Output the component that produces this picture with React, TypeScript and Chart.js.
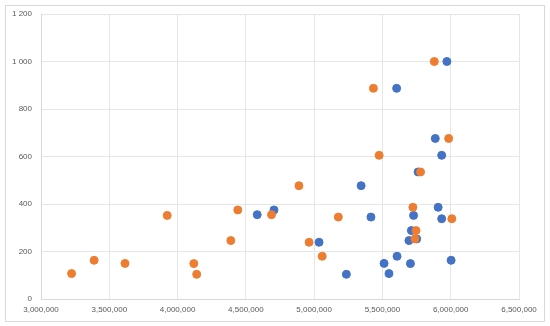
import React, { useEffect, useRef } from "react";
import { Chart, registerables } from "chart.js";

Chart.register(...registerables);

const xBlue = [4583000, 4706000, 5036000, 5236000, 5344000, 5416000, 5512000, 5548000, 5604000, 5607000, 5694000, 5705000, 5712000, 5728000, 5751000, 5761000, 5887000, 5908000, 5934000, 5934000, 5972000, 6003000];
const yBlue = [355, 375, 239, 104, 477, 345, 150, 107, 887, 180, 246, 149, 288, 352, 253, 535, 676, 386, 605, 338, 1000, 163];

const xOrange = [3224000, 3389000, 3615000, 3924000, 4119000, 4140000, 4390000, 4441000, 4688000, 4889000, 4963000, 5059000, 5177000, 5434000, 5476000, 5723000, 5746000, 5738000, 5779000, 5880000, 5985000, 6008000];
const yOrange = [107, 163, 150, 352, 149, 104, 246, 375, 355, 477, 239, 180, 345, 887, 605, 386, 288, 253, 535, 1000, 676, 338];

const xMin = 3000000;
const xMax = 6500000;
const xStep = 500000;
const yMin = 0;
const yMax = 1200;
const yStep = 200;

const borderPlugin = {
  id: "outerBorder",
  afterDraw(chart: any) {
    const ctx = chart.ctx;
    ctx.save();
    ctx.strokeStyle = "#d9d9d9";
    ctx.lineWidth = 1;
    ctx.strokeRect(5.5, 5.5, 539, 316);
    ctx.restore();
  },
};

export default function App() {
  const ref = useRef<HTMLCanvasElement>(null);
  useEffect(() => {
    document.body.style.margin = "0";
    const canvas = ref.current!;
    const chart = new Chart(canvas, {
      type: "scatter",
      data: {
        datasets: [
          {
            label: "Series1",
            data: xBlue.map((x, i) => ({ x, y: yBlue[i] })),
            backgroundColor: "#4472C4",
            borderColor: "#4472C4",
            pointRadius: 4,
            order: 1,
          },
          {
            label: "Series2",
            data: xOrange.map((x, i) => ({ x, y: yOrange[i] })),
            backgroundColor: "#ED7D31",
            borderColor: "#ED7D31",
            pointRadius: 4,
            order: 0,
          },
        ],
      },
      options: {
        animation: false,
        responsive: false,
        maintainAspectRatio: false,
        layout: { padding: { top: 14, right: 31, bottom: 0, left: 0 } },
        plugins: { legend: { display: false }, tooltip: { enabled: false } },
        scales: {
          x: {
            type: "linear",
            min: xMin,
            max: xMax,
            afterFit: (s: any) => { s.height = 27; },
            grid: { color: "#e6e6e6", drawTicks: false },
            border: { color: "#d9d9d9" },
            ticks: {
              stepSize: xStep,
              padding: 6,
              color: "#595959",
              font: { family: "Liberation Sans", size: 8 },
              maxRotation: 0,
              callback: (v: any) => Number(v).toLocaleString("en-US"),
            },
          },
          y: {
            type: "linear",
            min: yMin,
            max: yMax,
            afterFit: (s: any) => { s.width = 41; },
            grid: { color: "#e6e6e6", drawTicks: false },
            border: { color: "#d9d9d9" },
            ticks: {
              stepSize: yStep,
              padding: 9,
              color: "#595959",
              font: { family: "Liberation Sans", size: 8 },
              callback: (v: any) => String(v).replace(/\B(?=(\d{3})+(?!\d))/g, " "),
            },
          },
        },
      },
      plugins: [borderPlugin],
    });
    return () => chart.destroy();
  }, []);
  return <canvas ref={ref} width={550} height={326} style={{ display: "block" }} />;
}
